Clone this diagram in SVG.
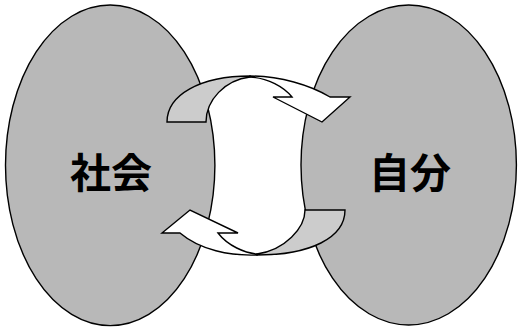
<svg xmlns="http://www.w3.org/2000/svg" width="518" height="329" viewBox="0 0 518 329">
<style>
.node{fill:#b8b8b8;stroke:#000;stroke-width:1.4}
.lbl{font-family:"Noto Sans CJK JP","Noto Sans CJK SC",sans-serif;font-size:41px;font-weight:bold;fill:#000;text-anchor:middle}
.back{fill:#cccccc;stroke:#000;stroke-width:1.4;stroke-linejoin:miter}
.front{fill:#ffffff;stroke:#000;stroke-width:1.4;stroke-linejoin:miter}
</style>
<rect width="518" height="329" fill="#ffffff"/>
<g id="society">
<ellipse class="node" cx="110.2" cy="165.3" rx="104.7" ry="160.3"/>
<text class="lbl" x="111" y="188">社会</text>
</g>
<g id="self">
<ellipse class="node" cx="408.7" cy="165" rx="107.7" ry="160"/>
<text class="lbl" x="410" y="188">自分</text>
</g>
<g id="connectors">
<g id="arrow-society-to-self">
<path class="back" d="M167,122 C167,95 200,76 250,76 L250,77 C225,80 206,100 206,122 Z"/>
<path class="front" d="M250,76 C280,76 310,85 330,97 L350,97 L322,122 L273,97 L292,97 C284,87 268,78 250,77 Z"/>
</g>
<g id="arrow-self-to-society">
<path class="back" d="M345,210 L305,210 C305,228 285,250 257,254 L257,255 C310,255 345,238 345,210 Z"/>
<path class="front" d="M257,255 C230,256 200,250 180,233 L162,233 L190,210 L238,233 L218,233 C228,246 245,253 257,254 Z"/>
</g>
</g>
</svg>
